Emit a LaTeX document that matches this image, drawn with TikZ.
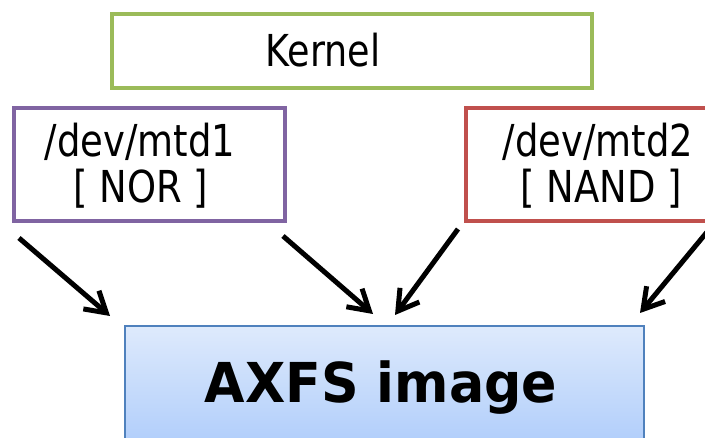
\documentclass[tikz,border=0pt]{standalone}
\usepackage{fontspec}
\setmainfont{DejaVu Sans}
\usetikzlibrary{arrows.meta}
\definecolor{kgreen}{RGB}{155,187,89}
\definecolor{kpurple}{RGB}{128,100,162}
\definecolor{kred}{RGB}{192,80,77}
\definecolor{kblue}{RGB}{79,129,189}
\definecolor{ktop}{RGB}{222,234,252}
\definecolor{kbot}{RGB}{164,198,250}
\tikzset{
  box/.style={draw, line width=4pt, fill=white, inner sep=0pt},
  lbl/.style={anchor=base, inner sep=0pt, font=\fontsize{44}{50}\selectfont},
  big/.style={anchor=base, inner sep=0pt, font=\fontsize{55}{60}\selectfont\bfseries},
  arr/.style={line width=5pt, -{Straight Barb[length=20pt,width=24pt,line width=5pt]}},
}
\begin{document}
\begin{tikzpicture}[x=1pt,y=-1pt]
\useasboundingbox (0,0) rectangle (705,438);
\clip (0,0) rectangle (705,438);
% boxes (centers, sizes)
\node[box, draw=kgreen, minimum width=480pt, minimum height=74pt] (kernel) at (352,51) {};
\node[box, draw=kpurple, minimum width=271pt, minimum height=113pt] (mtd1) at (149.5,164.5) {};
\node[box, draw=kred, minimum width=300pt, minimum height=113pt] (mtd2) at (616,164.5) {};
\node[draw=kblue, line width=1.5pt, top color=ktop, bottom color=kbot, minimum width=519pt, minimum height=150pt, inner sep=0pt] (axfs) at (384.5,401) {};
% texts
\node[lbl] (tkernel) at (323,67) {\scalebox{0.83}[1]{Kernel}};
\node[lbl] (tm1a) at (140,157) {\scalebox{0.84}[1]{/dev/mtd1}};
\node[lbl] (tm1b) at (141,203) {\scalebox{0.84}[1]{[ NOR ]}};
\node[lbl] (tm2a) at (598,157) {\scalebox{0.84}[1]{/dev/mtd2}};
\node[lbl] (tm2b) at (601,203) {\scalebox{0.84}[1]{[ NAND ]}};
\node[big] (taxfs) at (381,403) {\scalebox{0.95}[1]{AXFS image}};
% arrow end points
\coordinate (a1s) at (19,238);
\coordinate (a1e) at (110,316);
\coordinate (a2s) at (283,236);
\coordinate (a2e) at (373,314);
\coordinate (a3s) at (458,229);
\coordinate (a3e) at (395,315);
\coordinate (a4s) at (712,226);
\coordinate (a4e) at (640,313);
\draw[arr] (a1s) -- (a1e);
\draw[arr] (a2s) -- (a2e);
\draw[arr] (a3s) -- (a3e);
\draw[arr] (a4s) -- (a4e);
\end{tikzpicture}
\end{document}
